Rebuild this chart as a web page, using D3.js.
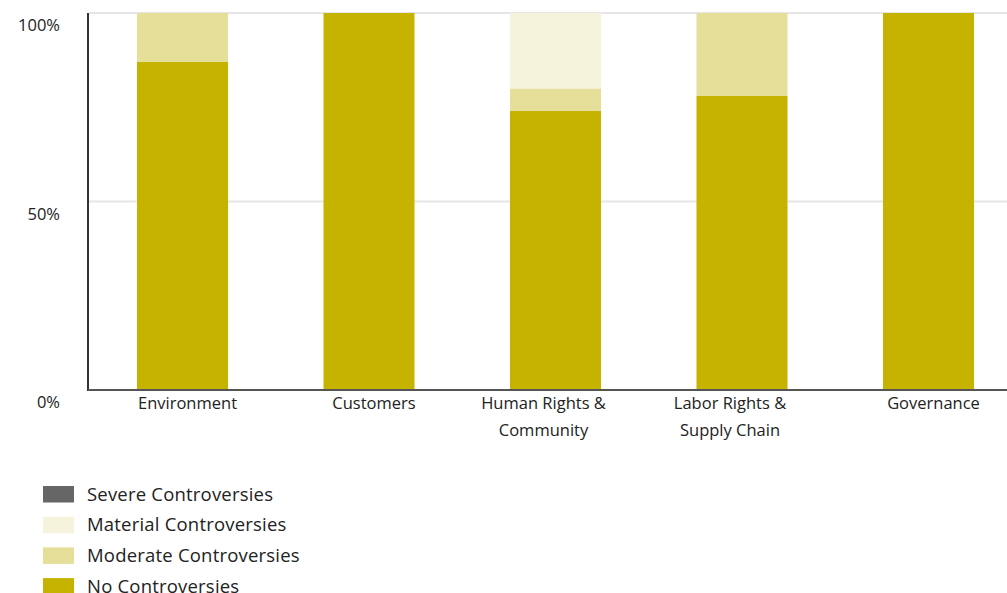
<!DOCTYPE html>
<html><head><meta charset="utf-8">
<script src="https://cdn.jsdelivr.net/npm/d3@7"></script>
<style>body{margin:0;background:#fff;overflow:hidden}text{font-family:"Open Sans",Lato,sans-serif;fill:#222}</style>
</head><body><svg id="c" width="1007" height="593"></svg>
<script>
const categories = ["Environment","Customers","Human Rights & Community","Labor Rights & Supply Chain","Governance"];
const categoryLines = [["Environment"],["Customers"],["Human Rights &","Community"],["Labor Rights &","Supply Chain"],["Governance"]];
const seriesNames = ["No Controversies","Moderate Controversies","Material Controversies","Severe Controversies"];
const noControversies = [87, 100, 74, 78, 100];
const moderateControversies = [13, 0, 6, 22, 0];
const materialControversies = [0, 0, 20, 0, 0];
const severeControversies = [0, 0, 0, 0, 0];
const seriesColors = ["#c5b300","#e6df99","#f6f3dd","#666666"];
const yTicks = [0, 50, 100];
const legendOrder = ["Severe Controversies","Material Controversies","Moderate Controversies","No Controversies"];

const seriesValues = [noControversies, moderateControversies, materialControversies, severeControversies];
const rows = categories.map((c,i)=>{const r={cat:c};seriesNames.forEach((s,j)=>r[s]=seriesValues[j][i]);return r;});
const stack = d3.stack().keys(seriesNames)(rows);

const svg = d3.select("#c");
const x = d3.scaleBand().domain(categories).range([89.25, 1021.75]).paddingInner(0.512).paddingOuter(0.256);
const y = d3.scaleLinear().domain([0,100]).range([390, 13]);
const color = d3.scaleOrdinal().domain(seriesNames).range(seriesColors);

// grid
svg.append("g").selectAll("line").data(yTicks.filter(t=>t>0)).join("line")
  .attr("x1",89).attr("x2",1007).attr("y1",d=>y(d)).attr("y2",d=>y(d))
  .attr("stroke","#e6e6e6").attr("stroke-width",2);

// bars
svg.append("g").selectAll("g").data(stack).join("g").attr("fill",d=>color(d.key))
  .selectAll("rect").data(d=>d).join("rect")
  .attr("x",d=>x(d.data.cat)).attr("width",x.bandwidth())
  .attr("y",d=>y(d[1])).attr("height",d=>y(d[0])-y(d[1]));

// axes
svg.append("line").attr("x1",88).attr("x2",88).attr("y1",13).attr("y2",391).attr("stroke","#333").attr("stroke-width",2);
svg.append("line").attr("x1",88).attr("x2",1007).attr("y1",390).attr("y2",390).attr("stroke","#555").attr("stroke-width",2);

// y labels
svg.append("g").selectAll("text").data(yTicks).join("text")
  .attr("x",60).attr("y",d=>y(d)+18).attr("text-anchor","end")
  .style("font-size","16.5px").text(d=>d+"%");

// x labels (wrapped labels sit a little left of the band centre, single ones a little right)
const xl = svg.append("g").selectAll("text").data(categories).join("text")
  .attr("x",(d,i)=>x(d)+x.bandwidth()/2+(categoryLines[i].length>1?-12:5))
  .attr("y",409).attr("text-anchor","middle").style("font-size","16.5px");
xl.selectAll("tspan").data((d,i)=>categoryLines[i]).join("tspan")
  .attr("x",function(){return this.parentNode.getAttribute("x");}).attr("dy",(d,i)=>i===0?0:27).text(d=>d);

// legend
const lg = svg.append("g").selectAll("g").data(legendOrder).join("g")
  .attr("transform",(d,i)=>`translate(43,${486+i*30.7})`);
lg.append("rect").attr("width",31).attr("height",16.5).attr("fill",d=>color(d));
lg.append("text").attr("x",44).attr("y",14.5).style("font-size","18.5px").style("letter-spacing","0.2px").text(d=>d);
</script></body></html>
